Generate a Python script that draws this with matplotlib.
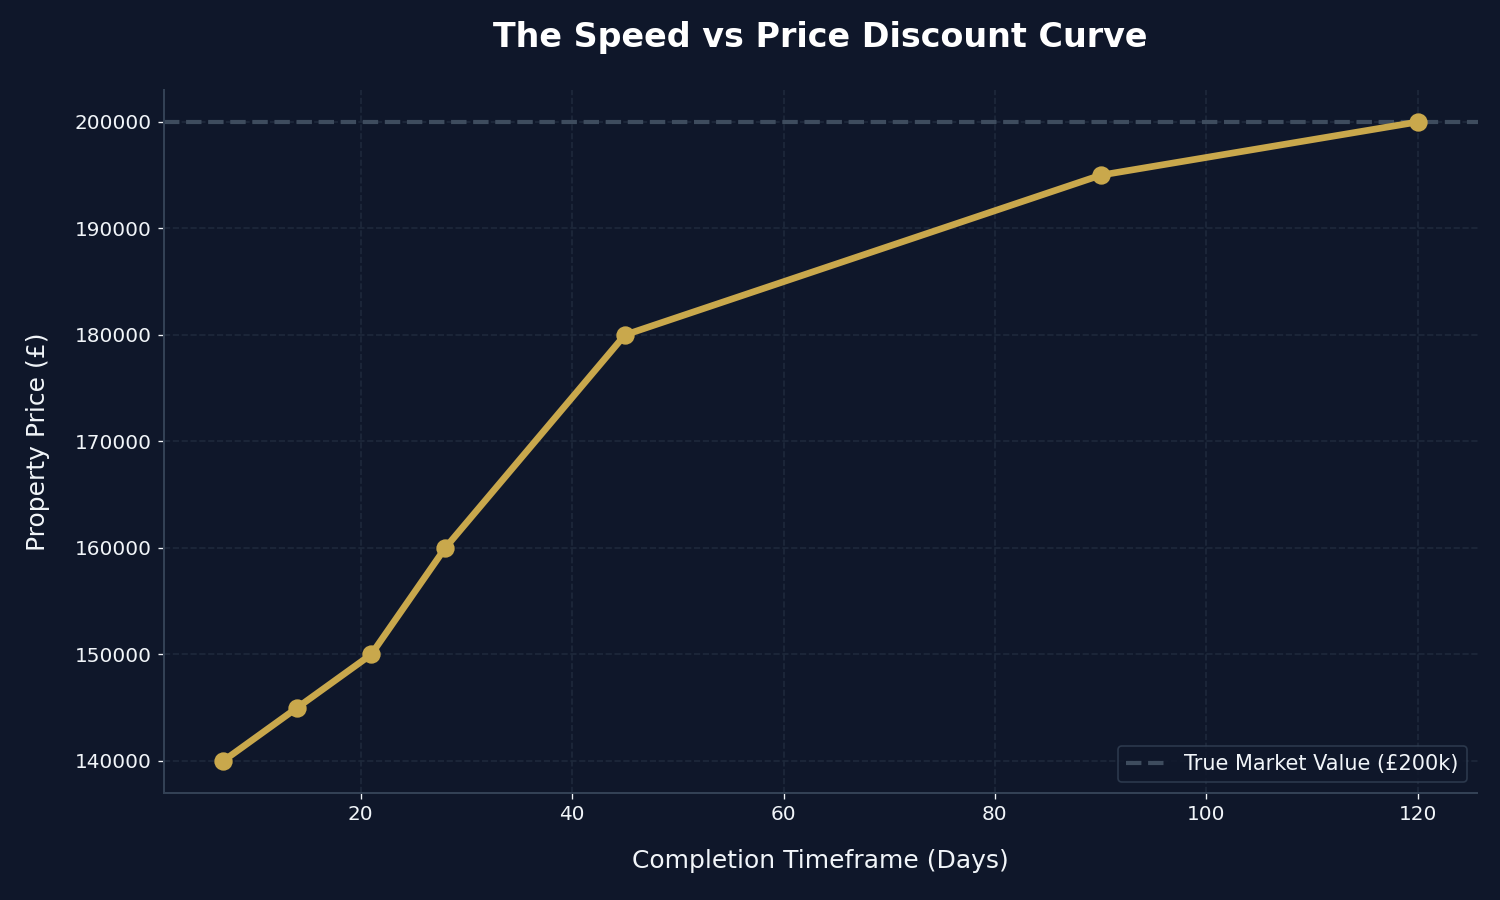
import matplotlib
matplotlib.use('Agg')
import matplotlib.pyplot as plt

# data
days = [7, 14, 21, 28, 45, 90, 120]
prices = [140000, 145000, 150000, 160000, 180000, 195000, 200000]
market_value = 200000

bg = '#0f172a'
gold = '#c9a84c'
txt = '#f1f5f9'

fig = plt.figure(figsize=(12.5, 7.5), dpi=120, facecolor=bg)
ax = fig.add_axes([0.109, 0.119, 0.876, 0.781])
ax.set_facecolor(bg)

ax.axhline(market_value, color='#3e4c5e', linestyle='--', linewidth=2.5,
           label='True Market Value (£200k)', zorder=1)
ax.plot(days, prices, color=gold, linewidth=4, marker='o', markersize=10, zorder=3)

ax.grid(True, color='#1e293b', linestyle='--', linewidth=1)
ax.set_axisbelow(True)

for s in ['top', 'right']:
    ax.spines[s].set_visible(False)
for s in ['left', 'bottom']:
    ax.spines[s].set_color('#334155')
    ax.spines[s].set_linewidth(1.2)

ax.tick_params(colors=txt, labelsize=12)
ax.ticklabel_format(axis='y', style='plain', useOffset=False)

ax.set_title('The Speed vs Price Discount Curve', color='white', fontsize=20,
             fontweight='bold', pad=26)
ax.set_xlabel('Completion Timeframe (Days)', color=txt, fontsize=15, labelpad=15)
ax.set_ylabel('Property Price (£)', color=txt, fontsize=15, labelpad=15)

leg = ax.legend(loc='lower right', fontsize=12.5, facecolor=bg, edgecolor='#334155',
                labelcolor=txt)

fig.savefig('out.png', facecolor=bg)
